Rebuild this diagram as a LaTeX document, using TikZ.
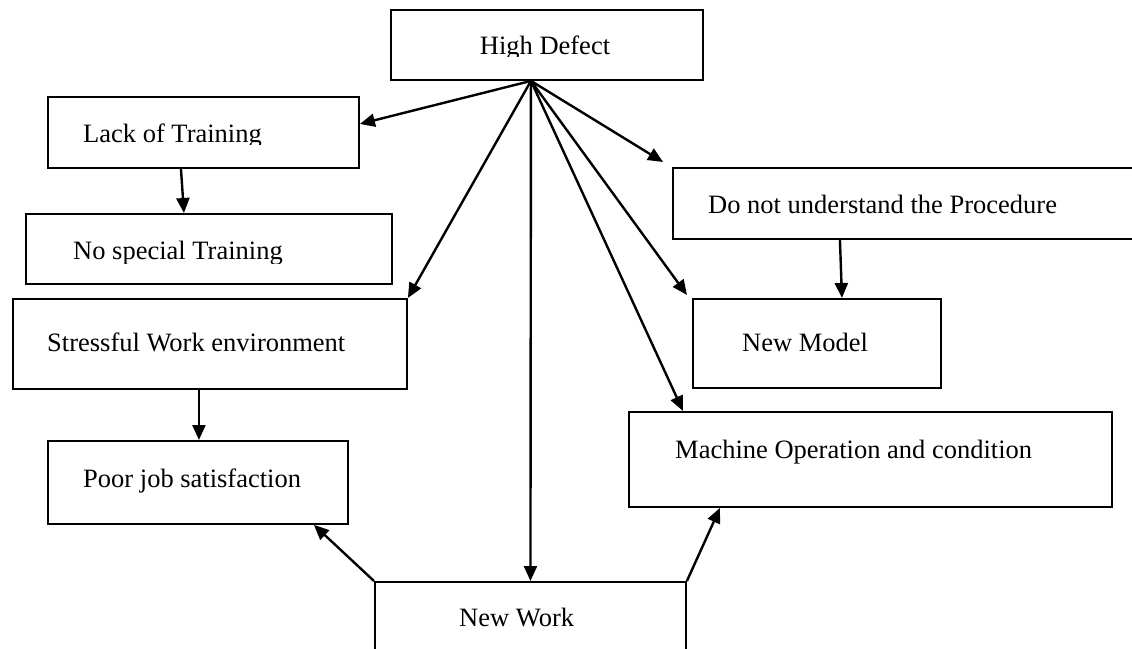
\documentclass[tikz,border=0pt]{standalone}
\usepackage{fontspec}
\setmainfont{Liberation Serif}
\usetikzlibrary{arrows.meta}
\begin{document}
\begin{tikzpicture}[x=1pt,y=-1pt,
  box/.style={draw, line width=1.9pt, inner sep=0pt, anchor=north west},
  lbl/.style={anchor=base west, inner sep=0pt, font=\fontsize{26.5}{30}\selectfont},
  arr/.style={line width=2.4pt, -{Triangle[length=15pt,width=13pt]}}]
\fill[white] (0,0) rectangle (1132,648);
\useasboundingbox (0,0) rectangle (1132,648);
% boxes
\node[box, minimum width=312pt, minimum height=70pt] (hd) at (390,9) {};
\node[box, minimum width=311pt, minimum height=71pt] (lack) at (47,96) {};
\node[box, minimum width=366pt, minimum height=70pt] (ns) at (25,213) {};
\node[box, minimum width=394pt, minimum height=90pt] (stress) at (12,298) {};
\node[box, minimum width=300pt, minimum height=83pt] (poor) at (47,440) {};
\node[box, minimum width=470pt, minimum height=71pt] (do) at (672,167) {};
\node[box, minimum width=248pt, minimum height=89pt] (nm) at (692,298) {};
\node[box, minimum width=483pt, minimum height=95pt] (mach) at (628,411) {};
\node[box, minimum width=311pt, minimum height=80pt] (nw) at (374,581) {};
% texts (some clipped like the original text boxes)
\begin{scope}
  \clip (390,9) rectangle (702,56);
  \node[lbl, anchor=base] (thd) at (545,54) {High Defect};
\end{scope}
\begin{scope}
  \clip (47,96) rectangle (358,144);
  \node[lbl] (tlack) at (83,142) {Lack of Training};
\end{scope}
\begin{scope}
  \clip (25,213) rectangle (391,263);
  \node[lbl] (tns) at (73,259) {No special Training};
\end{scope}
\node[lbl] (tstress) at (47,351) {Stressful Work environment};
\node[lbl] (tpoor) at (83,487) {Poor job satisfaction};
\node[lbl] (tdo) at (708,213) {Do not understand the Procedure};
\node[lbl] (tnm) at (742,351) {New Model};
\node[lbl] (tmach) at (675,458) {Machine Operation and condition};
\node[lbl] (tnw) at (459,626) {New Work};
% connectors
\coordinate (hub) at ([xshift=-16pt]hd.south);
\draw[arr] (hub) -- ([yshift=8.5pt]lack.east);
\draw[arr] (hub) -- (stress.north east);
\draw[arr] (hub) -- (nw.north);
\draw[arr] (hub) -- ([shift={(-9pt,5pt)}]do.north west);
\draw[arr] (hub) -- ([shift={(-5pt,3pt)}]nm.north west);
\draw[arr] (hub) -- ([xshift=55pt]mach.north west);
\draw[arr] ([xshift=-22.5pt]lack.south) -- ([xshift=-25pt]ns.north);
\draw[arr] ([xshift=-11pt]stress.south) -- ([xshift=1pt]poor.north);
\draw[arr] ([xshift=-68pt]do.south) -- ([xshift=25pt]nm.north);
\draw[arr] (nw.north west) -- ([xshift=-35pt]poor.south east);
\draw[arr] (nw.north east) -- ([xshift=92pt]mach.south west);
\end{tikzpicture}
\end{document}
